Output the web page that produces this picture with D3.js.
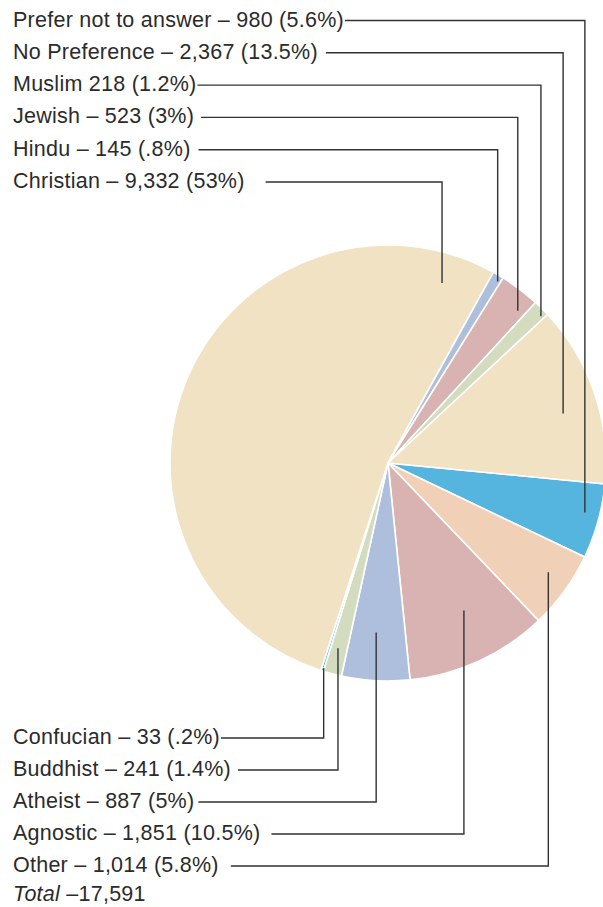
<!DOCTYPE html>
<html>
<head>
<meta charset="utf-8">
<script src="https://d3js.org/d3.v7.min.js"></script>
<style>
  body { margin: 0; background: #fff; }
  text { font-family: "Liberation Sans", Arial, sans-serif; fill: #2b2b2b; letter-spacing: 0.25px; }
</style>
</head>
<body>
<svg width="603" height="907"></svg>
<script>
// slices, clockwise from just below 3 o'clock
var categories = ["Prefer not to answer", "Other", "Agnostic", "Atheist", "Buddhist", "Confucian",
                  "Christian", "Hindu", "Jewish", "Muslim", "No Preference"];
var counts     = [980, 1014, 1851, 887, 241, 33, 9332, 145, 523, 218, 2367];
var percents   = ["5.6%", "5.8%", "10.5%", "5%", "1.4%", ".2%", "53%", ".8%", "3%", "1.2%", "13.5%"];
var colours    = ["#55b5df", "#f0d1b8", "#d8b3b1", "#adbfdc", "#d3dcbf", "#55b5df",
                  "#f0e2c2", "#adbfdc", "#d8b3b1", "#d3dcbf", "#f0e2c2"];
var topOrder    = ["Prefer not to answer", "No Preference", "Muslim", "Jewish", "Hindu", "Christian"];
var bottomOrder = ["Confucian", "Buddhist", "Atheist", "Agnostic", "Other"];
var total = "17,591";

// leader layout: where in the slice the line ends (fraction of angle, radius) and gap after text
var leader = {
  "Prefer not to answer": {t: 0.43, r: 203, gap: 1},
  "No Preference":        {t: 0.56, r: 182, gap: 8},
  "Muslim":               {t: 0.8,  r: 212, gap: 1},
  "Jewish":               {t: 0.8,  r: 200, gap: 7},
  "Hindu":                {t: 0.75, r: 212, gap: 8},
  "Christian":            {t: 0.936,r: 188, gap: 21},
  "Other":                {t: 0.42, r: 194, gap: 12},
  "Agnostic":             {t: 0.435,r: 166, gap: 11},
  "Atheist":              {t: 0.54, r: 170, gap: 4},
  "Buddhist":             {t: 0.56, r: 192, gap: 7},
  "Confucian":            {t: 0.2,  r: 215, gap: 1}
};

var svg = d3.select("svg");
var cx = 388, cy = 463, R = 218;
var start = 95.5 * Math.PI / 180;
var fmt = d3.format(",");

var rows = categories.map(function(c, i) {
  return {name: c, count: counts[i], pct: percents[i], colour: colours[i]};
});

var pie = d3.pie().sort(null).value(function(d) { return d.count; })
            .startAngle(start).endAngle(start + 2 * Math.PI);
var arcs = pie(rows);
var arc = d3.arc().innerRadius(0).outerRadius(R);

var g = svg.append("g").attr("transform", "translate(" + cx + "," + cy + ")");
g.selectAll("path")
  .data(arcs)
  .enter()
  .append("path")
  .attr("d", arc)
  .attr("fill", function(d) { return d.data.colour; })
  .attr("stroke", "#fff")
  .attr("stroke-width", 1.6)
  .attr("stroke-linejoin", "round");

function anchor(name) {
  var a = arcs.find(function(d) { return d.data.name === name; });
  var L = leader[name];
  var ang = a.startAngle + L.t * (a.endAngle - a.startAngle);
  return [cx + L.r * Math.sin(ang), cy - L.r * Math.cos(ang)];
}

function labelText(d) {
  var sep = d.name === "Muslim" ? " " : " \u2013 ";
  return d.name + sep + fmt(d.count) + " (" + d.pct + ")";
}

var fontSize = 21.5;
var lineOff = 6;

function drawLabel(name, baseline) {
  var d = rows.find(function(r) { return r.name === name; });
  var t = svg.append("text")
     .attr("x", 13).attr("y", baseline)
     .attr("font-size", fontSize + "px")
     .text(labelText(d));
  var x0 = 13 + t.node().getComputedTextLength() + leader[name].gap;
  var p = anchor(name);
  var ly = baseline - lineOff;
  svg.append("path")
     .attr("d", "M" + x0 + "," + ly + "H" + p[0] + "V" + p[1])
     .attr("fill", "none")
     .attr("stroke", "#333")
     .attr("stroke-width", 1.4);
}

topOrder.forEach(function(n, i) { drawLabel(n, 26.5 + 32.3 * i); });
bottomOrder.forEach(function(n, i) { drawLabel(n, 744 + 32 * i); });

var tot = svg.append("text").attr("x", 13).attr("y", 901).attr("font-size", fontSize + "px");
tot.append("tspan").attr("font-style", "italic").text("Total");
tot.append("tspan").text(" \u2013" + total);
</script>
</body>
</html>
